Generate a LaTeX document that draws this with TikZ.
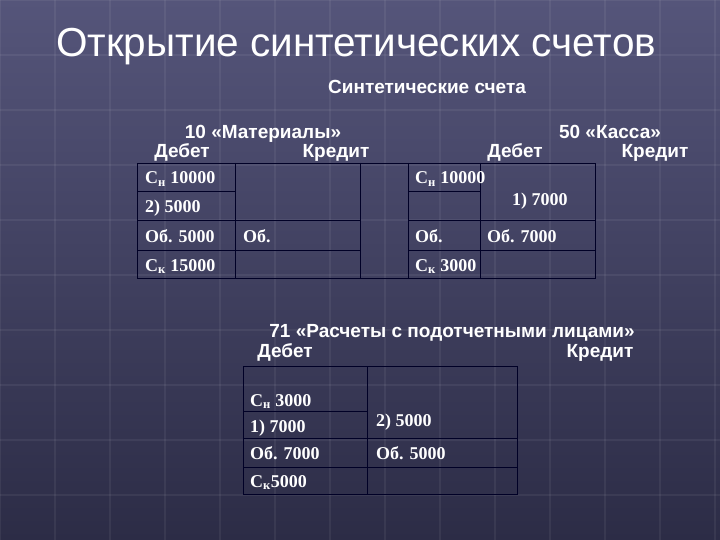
\documentclass[tikz,border=0pt]{standalone}
\usepackage{fontspec}
\setmainfont{Liberation Serif}
\newfontfamily\tbold{Liberation Serif Bold}
\newfontfamily\hsans{Liberation Sans}
\newfontfamily\hsansb{Liberation Sans Bold}
\begin{document}
\begin{tikzpicture}[x=1pt,y=-1pt,
  tl/.style={draw=black!85!blue,line width=0.9pt},
  tt/.style={text=white,font=\tbold\fontsize{18}{20}\selectfont,anchor=base west,inner sep=0pt},
  hd/.style={text=white,font=\hsansb\fontsize{19}{22}\selectfont,inner sep=0pt,anchor=base}]
\definecolor{bgA}{HTML}{55557A}\definecolor{bgB}{HTML}{2C2C46}
\shade[top color=bgA,bottom color=bgB] (0,0) rectangle (720,540);
\useasboundingbox (0,0) rectangle (720,540);
\foreach \i in {0,...,13} {
  \draw[white,opacity=0.06,line width=1.5pt] (\i*55,0) -- (\i*55,540);
  \draw[white,opacity=0.06,line width=1.5pt] (0,\i*55) -- (720,\i*55);
}
\node[text=white,font=\hsans\fontsize{40.5}{44}\selectfont,inner sep=0pt] (title) at (356,47) {Открытие синтетических счетов};
\node[hd] (syn) at (427,94) {Синтетические счета};
\node[hd] (m10) at (263,139) {10 «Материалы»};
\node[hd] (d1) at (182,158) {Дебет};
\node[hd] (k1) at (336,158) {Кредит};
\node[hd] (k50) at (610,139) {50 «Касса»};
\node[hd] (d2) at (515,158) {Дебет};
\node[hd] (k2) at (655,158) {Кредит};
\node[hd] (a71) at (452,337) {71 «Расчеты с подотчетными лицами»};
\node[hd] (d3) at (285,357) {Дебет};
\node[hd] (k3) at (600,357) {Кредит};
% table 1
\draw[tl] (137,163) rectangle (595,278);
\foreach \x in {235,360,408,480} \draw[tl] (\x,163) -- (\x,278);
\draw[tl] (137,191) -- (235,191);
\draw[tl] (408,191) -- (480,191);
\draw[tl] (137,220) -- (360,220) (408,220) -- (595,220);
\draw[tl] (137,250) -- (360,250) (408,250) -- (595,250);
\node[tt] (a1) at (145,184) {С\textsubscript{н} 10000};
\node[tt] (a2) at (145,213) {2) 5000};
\node[tt] (a3) at (145,242) {Об. 5000};
\node[tt] (a4) at (145,271) {С\textsubscript{к} 15000};
\node[tt] (a5) at (243,242) {Об.};
\node[tt] (b1) at (415,184) {С\textsubscript{н} 10000};
\node[tt] (b2) at (512,206) {1) 7000};
\node[tt] (b3) at (415,242) {Об.};
\node[tt] (b4) at (487,242) {Об. 7000};
\node[tt] (b5) at (415,271) {С\textsubscript{к} 3000};
% table 2
\draw[tl] (243,366) rectangle (517,494);
\draw[tl] (367,366) -- (367,494);
\draw[tl] (243,411) -- (367,411);
\draw[tl] (243,438) -- (517,438);
\draw[tl] (243,467) -- (517,467);
\node[tt] (c1) at (250,406) {С\textsubscript{н} 3000};
\node[tt] (c2) at (250,432) {1) 7000};
\node[tt] (c3) at (250,459) {Об. 7000};
\node[tt] (c4) at (250,487) {С\textsubscript{к}5000};
\node[tt] (c5) at (376,426) {2) 5000};
\node[tt] (c6) at (376,459) {Об. 5000};
\end{tikzpicture}
\end{document}
